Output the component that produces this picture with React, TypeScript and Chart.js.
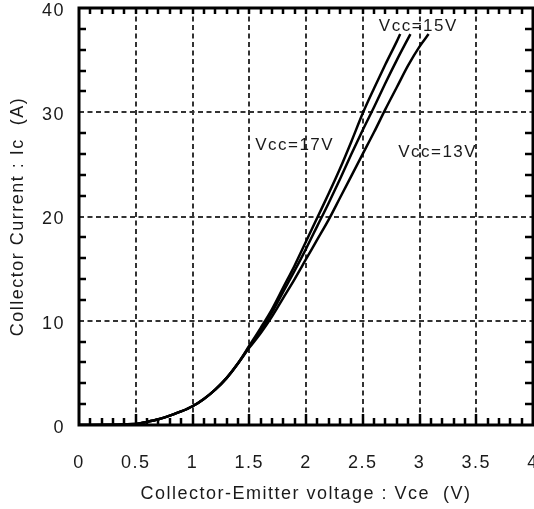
import React, { useEffect, useRef } from 'react';
import { Chart, registerables } from 'chart.js';

Chart.register(...registerables);

// ---- data ----
const vce17 = [0, 0.5, 0.6, 0.7, 0.8, 0.9, 1.0, 1.1, 1.2, 1.3, 1.4, 1.5, 1.6, 1.7, 1.8, 1.9, 2.0, 2.1, 2.2, 2.3, 2.4, 2.5, 2.6, 2.7, 2.8, 2.83];
const ic17 = [0, 0.1, 0.3, 0.55, 0.9, 1.3, 1.8, 2.5, 3.4, 4.5, 5.9, 7.6, 9.3, 11.1, 13.2, 15.3, 17.6, 19.9, 22.2, 24.6, 27.2, 29.9, 32.3, 34.6, 36.8, 37.5];
const vce15 = [0, 0.5, 0.6, 0.7, 0.8, 0.9, 1.0, 1.1, 1.2, 1.3, 1.4, 1.5, 1.6, 1.7, 1.8, 1.9, 2.0, 2.1, 2.2, 2.3, 2.4, 2.5, 2.6, 2.7, 2.8, 2.92];
const ic15 = [0, 0.1, 0.3, 0.55, 0.9, 1.3, 1.8, 2.5, 3.4, 4.5, 5.9, 7.5, 9.0, 10.8, 12.8, 14.8, 16.9, 19.1, 21.3, 23.6, 26.0, 28.3, 30.5, 32.8, 35.0, 37.5];
const vce13 = [0, 0.5, 0.6, 0.7, 0.8, 0.9, 1.0, 1.1, 1.2, 1.3, 1.4, 1.5, 1.6, 1.7, 1.8, 1.9, 2.0, 2.1, 2.2, 2.3, 2.4, 2.5, 2.6, 2.7, 2.8, 2.9, 3.0, 3.08];
const ic13 = [0, 0.1, 0.3, 0.55, 0.9, 1.3, 1.8, 2.5, 3.4, 4.5, 5.9, 7.4, 8.8, 10.4, 12.2, 14.0, 15.9, 17.8, 19.7, 21.8, 23.9, 26.0, 28.1, 30.3, 32.4, 34.5, 36.3, 37.5];

const xTickValues = [0, 0.5, 1, 1.5, 2, 2.5, 3, 3.5, 4];
const yTickValues = [0, 10, 20, 30, 40];
const seriesLabels = ['Vcc=17V', 'Vcc=15V', 'Vcc=13V'];
// label anchor positions in data units (vce, ic)
const labelVce = [1.9, 2.99, 3.16];
const labelIc = [26.8, 38.2, 26.2];

const xTitle = 'Collector-Emitter voltage : Vce  (V)';
const yTitle = 'Collector Current : Ic  (A)';

const FONT = '"Liberation Sans", Arial, sans-serif';
const TEXT = '#1a1a1a';

const pts = (xs: number[], ys: number[]) => xs.map((x, i) => ({ x, y: ys[i] }));

const zeroPad = (s: any) => {
  s.paddingLeft = 0;
  s.paddingRight = 0;
  s.paddingTop = 0;
  s.paddingBottom = 0;
};

const decorPlugin = {
  id: 'decor',
  beforeDraw(chart: any) {
    chart.ctx.letterSpacing = '1.5px';
  },
  beforeDatasetsDraw(chart: any) {
    const { ctx, chartArea: a, scales } = chart;
    const xs = scales.x;
    const ys = scales.y;
    ctx.save();
    ctx.strokeStyle = '#333';
    ctx.lineWidth = 2;
    ctx.setLineDash([5, 3.5]);
    xTickValues.slice(1, -1).forEach((v) => {
      const px = Math.round(xs.getPixelForValue(v));
      ctx.beginPath();
      ctx.moveTo(px, a.top);
      ctx.lineTo(px, a.bottom);
      ctx.stroke();
    });
    yTickValues.slice(1, -1).forEach((v) => {
      const py = Math.round(ys.getPixelForValue(v));
      ctx.beginPath();
      ctx.moveTo(a.left, py);
      ctx.lineTo(a.right, py);
      ctx.stroke();
    });
    ctx.restore();
  },
  afterDatasetsDraw(chart: any) {
    const { ctx, chartArea: a, scales } = chart;
    const xs = scales.x;
    const ys = scales.y;
    ctx.save();
    ctx.setLineDash([]);
    ctx.strokeStyle = '#000';
    ctx.lineWidth = 2.5;
    for (let i = 1; i < 40; i++) {
      const v = i / 10;
      const px = Math.round(xs.getPixelForValue(v));
      const major = i % 5 === 0;
      ctx.beginPath();
      ctx.moveTo(px, a.bottom);
      ctx.lineTo(px, a.bottom - (major ? 11 : 7));
      ctx.moveTo(px, a.top);
      ctx.lineTo(px, a.top + 6);
      ctx.stroke();
    }
    for (let v = 2; v < 40; v += 2) {
      if (v % 10 === 0) continue;
      const py = Math.round(ys.getPixelForValue(v));
      ctx.beginPath();
      ctx.moveTo(a.left, py);
      ctx.lineTo(a.left + 7, py);
      ctx.moveTo(a.right, py);
      ctx.lineTo(a.right - 8, py);
      ctx.stroke();
    }
    ctx.lineWidth = 3;
    ctx.strokeRect(a.left, a.top, a.right - a.left, a.bottom - a.top);
    ctx.fillStyle = TEXT;
    ctx.font = `17px ${FONT}`;
    ctx.letterSpacing = '1.5px';
    ctx.textAlign = 'center';
    ctx.textBaseline = 'middle';
    seriesLabels.forEach((t, i) => {
      ctx.fillText(t, xs.getPixelForValue(labelVce[i]), ys.getPixelForValue(labelIc[i]));
    });
    ctx.restore();
  },
};

export default function App() {
  const ref = useRef<HTMLCanvasElement>(null);
  useEffect(() => {
    if (!ref.current) return;
    const mk = (xs: number[], ys: number[], label: string) => ({
      label,
      data: pts(xs, ys),
      borderColor: '#000',
      borderWidth: 2.5,
      pointRadius: 0,
      fill: false,
      cubicInterpolationMode: 'monotone' as const,
    });
    const chart = new Chart(ref.current, {
      type: 'line',
      data: {
        datasets: [
          mk(vce17, ic17, seriesLabels[0]),
          mk(vce15, ic15, seriesLabels[1]),
          mk(vce13, ic13, seriesLabels[2]),
        ],
      },
      options: {
        responsive: false,
        animation: false,
        events: [],
        layout: { padding: { left: 0, right: 1, top: 8, bottom: 0 } },
        plugins: { legend: { display: false }, tooltip: { enabled: false } },
        scales: {
          x: {
            type: 'linear',
            min: 0,
            max: 4,
            afterFit: (s: any) => { s.height = 84; zeroPad(s); },
            afterBuildTicks: (s: any) => { s.ticks = xTickValues.map((v) => ({ value: v })); },
            grid: { display: false, drawTicks: false },
            border: { display: false },
            ticks: {
              color: TEXT,
              padding: 27,
              maxRotation: 0,
              font: { family: FONT, size: 18 },
              callback: (v: any) => String(v),
            },
            title: {
              display: true,
              text: xTitle,
              color: TEXT,
              font: { family: FONT, size: 18 },
              padding: { top: 0, bottom: 4 },
            },
          },
          y: {
            type: 'linear',
            min: 0,
            max: 40,
            afterFit: (s: any) => { s.width = 79; zeroPad(s); },
            afterBuildTicks: (s: any) => { s.ticks = yTickValues.map((v) => ({ value: v })); },
            grid: { display: false, drawTicks: false },
            border: { display: false },
            ticks: {
              color: TEXT,
              padding: 14,
              labelOffset: 3,
              font: { family: FONT, size: 18 },
              callback: (v: any) => String(v),
            },
            title: {
              display: true,
              text: yTitle,
              color: TEXT,
              font: { family: FONT, size: 18 },
              padding: { top: 7, bottom: 0 },
            },
          },
        },
      },
      plugins: [decorPlugin],
    });
    return () => chart.destroy();
  }, []);
  return (
    <div style={{ position: 'fixed', left: 0, top: 0, width: 534, height: 509, background: '#fff' }}>
      <canvas ref={ref} width={534} height={509} style={{ display: 'block' }} />
    </div>
  );
}
